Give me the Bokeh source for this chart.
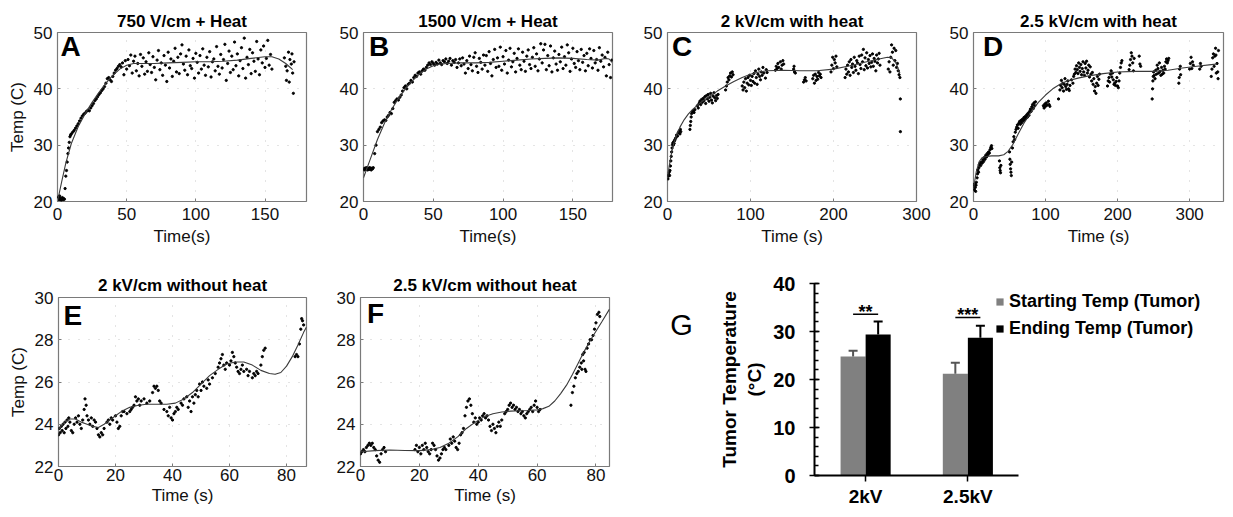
from bokeh.plotting import figure
from bokeh.models import (Range1d, FixedTicker, Label, ColumnDataSource,
                          Legend, LegendItem, SingleIntervalTicker)
from bokeh.layouts import row, column
from bokeh.transform import dodge
from bokeh.embed import file_html
from bokeh.resources import INLINE
from bokeh.core.properties import value

FONT = "Liberation Sans"

# ---------------- data ----------------
# Panel A: 750 V/cm + Heat
A_points = [
    (0, 20.5), (0.5, 20.8), (1, 20.3), (1.5, 21.0), (2, 20.6), (2.5, 20.2), (3, 20.4), (3.5, 20.7),
    (4, 20.3), (4.5, 20.5), (5, 20.4), (5.5, 22.3), (6, 24.5), (6.5, 25.5), (7, 27.0), (7.5, 28.5),
    (8, 29.5), (8.5, 30.5), (9, 31.5), (9.5, 31.8), (10, 32.0), (11, 32.3), (12, 32.6), (13, 33.0),
    (14, 33.4), (15, 33.8), (16, 34.3), (17, 34.8), (18, 35.2), (19, 35.5), (20, 35.7), (21, 36.0),
    (22, 36.2), (23, 36.1), (24, 36.6), (25, 37.0), (26, 37.4), (27, 37.9), (28, 38.2), (29, 38.6),
    (30, 39.0), (31, 39.3), (32, 39.7), (33, 40.0), (34, 40.4), (35, 41.0), (36, 41.8), (37, 42.0),
    (38, 41.6), (39, 41.3), (40, 42.2), (41, 42.8), (42, 43.3), (43, 43.6), (44, 44.0), (45, 44.3),
    (46, 43.9), (47, 44.6), (48, 42.5), (49, 45.0),
    (50, 43.5), (51, 45.2), (52, 44.1), (53, 46.0), (54, 42.8), (55, 44.9), (56, 45.8), (57, 43.2),
    (58, 44.5), (59, 42.3), (60, 46.1), (61, 44.0), (62, 45.5), (63, 42.6), (64, 44.8), (65, 43.1),
    (66, 46.4), (67, 44.3), (68, 42.9), (69, 45.7), (70, 43.8), (71, 41.6), (72, 45.1), (73, 46.8),
    (74, 43.4), (75, 44.6), (76, 42.4), (77, 45.9), (78, 44.2), (79, 41.3), (80, 46.5), (81, 43.7),
    (82, 45.3), (83, 42.2), (84, 44.9), (85, 47.2), (86, 43.0), (87, 45.6), (88, 42.7), (89, 46.2),
    (90, 47.8), (91, 44.4), (92, 43.3), (93, 45.8), (94, 42.5), (95, 46.9), (96, 44.1), (97, 43.6),
    (98, 45.4), (99, 41.9), (100, 46.3), (101, 44.7), (102, 42.8), (103, 45.9), (104, 43.5), (105, 47.1),
    (106, 44.2), (107, 42.4), (108, 45.6), (109, 43.9), (110, 46.6), (111, 42.1), (112, 44.8), (113, 45.3),
    (114, 43.2), (115, 47.5), (116, 44.0), (117, 42.6), (118, 46.1), (119, 43.7), (120, 45.2), (121, 47.9),
    (122, 41.5), (123, 44.5), (124, 46.7), (125, 42.9), (126, 45.8), (127, 43.4), (128, 48.3), (129, 44.1),
    (130, 46.2), (131, 42.3), (132, 45.0), (133, 47.3), (134, 43.6), (135, 49.0), (136, 41.9), (137, 45.6),
    (138, 44.3), (139, 47.0), (140, 42.7), (141, 46.4), (142, 44.9), (143, 43.1), (144, 48.4), (145, 45.3),
    (146, 42.5), (147, 46.9), (148, 44.6), (149, 47.6), (150, 43.8), (151, 45.4), (152, 48.6), (153, 44.2),
    (154, 46.1), (155, 43.5),
    (164, 45.5), (165, 44.0), (165.5, 41.5), (166, 43.2), (167, 46.5), (167.5, 41.2), (168, 45.2),
    (169, 44.4), (169.5, 46.2), (170, 42.8), (170.5, 39.2), (171, 44.8),
]
A_fit = [(0, 20.0), (3, 23.5), (6, 26.8), (10, 30.3), (15, 33.3), (20, 35.6), (25, 37.6), (30, 39.4),
         (35, 41.0), (40, 42.4), (45, 43.5), (50, 44.2), (55, 44.5), (60, 44.5), (70, 44.5), (80, 44.6),
         (90, 44.7), (100, 44.8), (110, 44.8), (120, 44.9), (130, 45.1), (140, 45.4), (150, 45.7),
         (155, 45.7), (160, 45.3), (165, 44.5), (170, 43.4)]

# Panel B: 1500 V/cm + Heat
B_points = [
    (0, 25.8), (0.5, 25.6), (1, 25.9), (1.5, 25.7), (2, 26.0), (2.5, 25.8), (3, 25.6), (3.5, 25.9),
    (4, 25.7), (4.5, 26.0), (5, 25.8), (5.5, 25.6), (6, 25.9), (6.5, 25.8), (7, 26.0), (8, 28.5),
    (9, 30.0), (10, 32.4), (11, 32.8), (12, 33.2), (13, 34.0), (14, 34.3), (15, 34.5), (16, 34.4),
    (17, 35.0), (18, 35.3), (19, 35.8), (20, 35.6), (21, 36.5), (22, 37.6), (23, 37.9), (24, 38.2),
    (25, 38.0), (26, 38.5), (27, 38.9), (28, 39.6), (29, 40.2), (30, 40.5), (31, 40.0), (32, 40.8),
    (33, 41.0), (34, 41.5), (35, 41.2), (36, 42.0), (37, 42.4), (38, 42.2), (39, 42.8), (40, 43.0),
    (41, 42.6), (42, 43.2), (43, 43.5), (44, 43.3), (45, 43.8), (46, 44.2), (47, 44.6), (48, 44.3),
    (49, 44.8), (50, 44.5), (51, 44.2), (52, 44.7), (53, 44.4), (54, 45.1), (55, 44.6), (56, 44.3),
    (57, 45.0), (58, 44.8), (59, 45.3), (60, 44.5), (61, 44.9), (62, 45.4), (63, 44.2), (64, 45.0),
    (65, 44.7), (66, 45.2), (67, 43.8), (68, 44.6), (69, 45.3), (70, 44.1), (71, 45.5), (72, 44.4),
    (73, 42.8), (74, 45.0), (75, 43.6), (76, 45.8), (77, 44.3), (78, 43.2), (79, 45.6), (80, 46.4),
    (81, 44.0), (82, 42.9), (83, 45.4), (84, 44.7), (85, 43.5), (86, 46.0), (87, 44.2), (88, 45.9),
    (89, 43.1), (90, 46.6), (91, 44.5), (92, 42.3), (93, 45.2), (94, 47.0), (95, 43.8), (96, 45.5),
    (97, 44.0), (98, 47.4), (99, 43.3), (100, 45.7), (101, 44.4), (102, 46.8), (103, 42.8), (104, 45.1),
    (105, 47.2), (106, 43.9), (107, 44.8), (108, 46.3), (109, 43.0), (110, 45.4), (111, 47.1), (112, 44.2),
    (113, 43.4), (114, 46.5), (115, 44.9), (116, 43.1), (117, 45.8), (118, 46.9), (119, 44.3), (120, 43.6),
    (121, 45.6), (122, 47.3), (123, 44.0), (124, 46.2), (125, 43.2), (126, 45.3), (127, 48.0), (128, 44.6),
    (129, 46.9), (130, 47.9), (131, 43.4), (132, 45.9), (133, 44.1), (134, 47.6), (135, 43.0), (136, 45.5),
    (137, 46.7), (138, 44.4), (139, 43.3), (140, 46.1), (141, 44.8), (142, 47.4), (143, 43.6), (144, 45.7),
    (145, 44.2), (146, 47.8), (147, 46.4), (148, 43.1), (149, 45.3), (150, 47.2), (151, 44.5), (152, 43.8),
    (153, 46.6), (154, 45.0), (155, 43.4), (156, 47.0), (157, 44.7), (158, 45.9), (159, 43.2), (160, 46.3),
    (161, 44.1), (162, 47.1), (163, 45.4), (164, 43.7), (165, 46.8), (166, 44.6), (167, 45.2), (168, 43.3),
    (169, 47.3), (170, 44.9), (171, 46.0), (172, 43.9), (173, 45.6), (174, 42.3), (175, 46.5), (176, 44.3),
    (177, 42.0), (178, 45.1),
]
B_fit = [(0, 24.2), (5, 27.6), (10, 31.0), (15, 33.9), (20, 36.3), (25, 38.3), (30, 40.0), (35, 41.4),
         (40, 42.6), (45, 43.5), (50, 44.1), (55, 44.4), (60, 44.5), (70, 44.6), (80, 44.6), (90, 44.7),
         (100, 44.9), (110, 45.1), (120, 45.3), (130, 45.4), (140, 45.5), (150, 45.4), (160, 45.2),
         (168, 45.1), (173, 45.4), (176, 45.3), (178, 44.7)]

# Panel C: 2 kV/cm with heat
C_points = [
    (0.5, 24.0), (1, 24.5), (1.5, 24.8), (2, 25.2), (2.5, 24.6), (3, 25.5), (3.5, 26.3), (4, 27.2),
    (4.5, 28.0), (5, 28.8), (5.5, 29.5), (6, 30.1), (6.5, 30.4), (7, 30.0), (7.5, 30.6), (8, 30.3),
    (8.5, 30.8), (9, 31.0), (10, 31.3), (11, 31.8), (12, 31.6), (13, 32.2), (14, 32.5), (15, 32.0),
    (15.5, 32.8), (16, 32.4),
    (27, 32.8), (27.5, 33.5), (28, 34.2), (28.5, 35.0), (29, 35.6), (30, 35.9), (31, 36.1), (32, 35.8),
    (33, 36.3), (36, 37.0), (37, 36.6), (38, 37.4), (39, 37.8), (40, 37.2), (41, 38.1), (42, 37.6),
    (43, 38.3), (44, 37.9), (45, 38.6), (46, 37.4), (47, 38.8), (48, 38.2), (49, 39.0), (50, 37.8),
    (51, 38.5), (52, 39.2), (53, 38.0), (54, 37.5), (55, 38.7), (56, 39.3), (57, 38.4), (58, 37.9),
    (59, 38.8), (60, 38.3), (61, 39.0),
    (70, 39.8), (71, 40.5), (72, 41.2), (73, 42.0), (74, 41.6), (75, 42.3), (76, 42.8), (77, 42.1),
    (78, 43.0), (79, 42.5),
    (90, 40.5), (91, 39.8), (92, 41.2), (93, 40.2), (94, 41.8), (95, 39.6), (96, 41.0), (97, 42.0),
    (98, 40.7), (99, 42.4), (100, 41.5), (101, 40.6), (102, 42.2), (103, 41.3), (104, 42.7), (105, 41.0),
    (106, 43.2), (107, 42.0), (108, 40.8), (109, 42.6), (110, 43.5), (111, 42.2), (112, 41.6), (113, 43.0),
    (114, 42.4), (115, 43.8), (116, 42.8), (118, 41.9), (119, 43.4), (120, 42.9),
    (130, 43.3), (131, 44.0), (132, 43.6), (133, 44.5), (134, 43.8), (136, 44.8), (137, 43.5), (138, 44.2),
    (139, 45.0), (140, 44.4),
    (152, 43.5), (152.5, 44.0), (153, 43.0), (154, 42.8),
    (164, 41.2), (165, 41.6), (166, 42.0), (167, 41.4), (175, 41.8), (176, 42.4), (177, 41.0), (178, 42.6),
    (179, 41.5), (180, 42.2), (181, 41.7), (182, 42.9), (183, 42.3), (184, 42.6), (185, 42.0),
    (197, 43.0), (198, 44.2), (199, 45.6), (200, 43.6), (201, 45.2), (202, 44.6), (203, 45.8), (204, 43.9),
    (214, 42.0), (215, 43.5), (216, 42.6), (217, 44.2), (218, 43.0), (219, 44.8), (220, 42.4), (221, 45.2),
    (222, 43.8), (223, 44.4), (224, 42.9), (225, 45.6), (226, 44.0), (227, 43.3), (228, 45.0), (229, 44.6),
    (230, 42.7), (231, 45.8), (232, 44.3), (233, 43.6), (234, 46.0), (235, 44.8), (236, 47.0), (237, 43.4),
    (238, 45.5), (239, 44.1), (240, 46.4), (241, 43.7), (242, 45.2), (243, 44.5), (244, 45.9), (245, 43.9),
    (246, 44.7), (247, 46.2), (248, 44.0), (249, 45.4), (250, 44.9), (251, 43.2), (252, 46.0), (253, 44.6),
    (254, 45.3), (255, 46.3), (256, 44.2),
    (266, 43.5), (267, 44.8), (268, 43.0), (269, 45.6), (270, 47.8), (271, 46.5), (272, 44.2), (273, 47.2),
    (274, 45.0), (275, 46.8), (276, 43.8), (277, 44.5), (278, 43.2), (279, 42.5), (280, 42.0),
    (280.5, 38.2), (280.6, 32.4),
]
C_fit = [(0, 24.2), (2, 26.2), (4, 28.0), (6, 29.4), (8, 30.5), (10, 31.4), (15, 33.2), (20, 34.5),
         (25, 35.5), (30, 36.3), (40, 37.6), (50, 38.6), (60, 39.6), (70, 40.5), (80, 41.3), (90, 42.0),
         (100, 42.6), (110, 43.0), (120, 43.2), (140, 43.3), (160, 43.2), (180, 43.2), (200, 43.5),
         (220, 44.1), (240, 44.8), (255, 45.3), (265, 45.6), (270, 45.5), (275, 44.7), (280, 42.8)]

# Panel D: 2.5 kV/cm with heat
D_points = [
    (0, 23.0), (0.5, 22.3), (1, 22.8), (1.5, 22.0), (2, 23.2), (2.5, 22.5), (3, 21.8), (3.5, 22.9),
    (4, 23.4), (5, 24.2), (5.5, 24.9), (6, 25.6), (7, 25.2), (7.5, 26.0), (8, 26.5), (9, 26.8),
    (10, 26.4), (11, 27.0), (12, 26.8), (13, 27.4), (14, 27.1), (15, 27.8), (16, 27.5), (17, 28.2),
    (18, 27.9), (19, 28.5), (20, 28.3), (21, 28.8), (22, 28.6), (23, 29.2), (24, 29.6), (25, 29.9),
    (25.5, 29.4),
    (36, 27.2), (36.5, 26.0), (37, 25.5), (37.5, 25.1), (38, 26.4),
    (50, 28.8), (50.5, 27.5), (51, 26.6), (51.5, 25.8), (52, 25.2), (52.5, 24.6), (53, 27.0), (54, 29.5),
    (55, 30.6), (56, 31.5), (57, 31.0), (58, 32.3), (59, 32.8), (60, 33.2), (61, 33.6), (62, 33.0),
    (63, 33.9), (64, 34.2), (65, 33.7), (66, 34.4), (67, 34.0), (68, 34.6), (69, 34.3), (70, 34.9),
    (71, 34.5), (72, 35.1), (73, 34.8), (74, 35.4), (75, 35.0), (76, 35.7), (77, 35.3), (78, 36.0),
    (79, 36.4), (80, 36.0), (81, 36.8), (82, 37.2), (83, 36.5), (84, 37.5), (85, 37.0), (86, 37.7),
    (97, 37.0), (98, 36.6), (99, 37.3), (100, 36.9), (101, 37.5), (102, 37.1), (104, 37.8), (105, 37.2),
    (106, 36.9),
    (118, 38.2), (120, 39.8), (121, 40.6), (122, 41.5), (123, 40.2), (124, 41.0), (125, 39.6), (126, 40.8),
    (127, 41.8), (128, 40.4), (129, 39.9), (130, 40.8), (131, 41.4), (132, 40.0), (133, 39.7), (134, 40.6),
    (136, 41.6), (138, 41.0), (139, 42.2), (140, 42.6), (141, 43.5), (142, 42.9), (143, 44.1), (144, 43.4),
    (145, 42.7), (146, 44.6), (147, 43.8), (148, 43.1), (149, 44.3), (150, 42.5), (151, 43.6), (152, 44.8),
    (153, 43.0), (154, 42.4), (155, 44.5), (156, 43.7), (157, 44.9), (158, 42.8), (159, 43.3), (160, 44.2),
    (161, 42.1), (162, 43.9), (163, 42.6), (164, 41.4), (165, 42.9), (166, 40.8), (167, 41.8), (168, 39.6),
    (169, 40.4), (170, 39.2), (171, 41.0), (172, 42.2), (173, 40.6), (174, 41.7), (175, 42.6),
    (186, 40.5), (187, 41.4), (188, 42.0), (189, 41.2), (190, 42.6), (191, 43.2), (192, 42.1), (193, 42.8),
    (194, 41.6), (195, 40.8), (196, 41.0), (197, 40.6), (198, 41.3), (199, 42.0), (200, 40.5), (201, 40.2),
    (202, 41.4), (203, 42.8), (204, 43.8), (205, 44.6), (206, 45.0),
    (216, 43.4), (217, 44.2), (218, 45.2), (219, 46.4), (220, 45.8), (221, 44.6), (222, 43.2), (223, 45.4),
    (230, 45.8), (231, 44.4), (232, 44.0),
    (248, 38.2), (248.5, 40.0), (249, 41.4), (249.5, 42.2), (250, 43.0), (251, 42.4), (252, 41.8), (253, 43.3),
    (254, 42.6), (255, 44.2), (256, 43.6), (257, 42.8), (258, 44.6), (259, 43.1), (260, 42.4), (261, 43.8),
    (262, 42.6), (263, 43.3), (264, 42.8), (265, 44.0), (266, 43.5), (267, 44.8), (268, 45.3), (269, 44.6),
    (270, 45.0), (271, 45.4),
    (285, 41.0), (285.5, 42.0), (286, 43.5), (287, 44.0), (287.5, 42.5),
    (300, 43.5), (301, 44.5), (302, 45.6), (303, 43.6), (304, 44.8), (305, 44.2),
    (314, 43.5), (315, 44.5), (316, 44.0),
    (330, 42.2), (331, 43.5), (332, 45.5), (333, 46.2), (334, 44.0), (335, 45.8), (336, 47.2), (336.5, 46.0),
    (337, 42.8), (338, 44.5), (339, 43.0), (339.5, 41.8), (340, 46.8),
]
D_fit = [(0, 22.3), (4, 25.4), (8, 27.1), (12, 27.8), (18, 28.0), (25, 28.1), (35, 28.1), (42, 28.3),
         (48, 28.9), (55, 30.2), (62, 32.0), (70, 33.9), (80, 35.9), (90, 37.6), (100, 38.9), (110, 40.0),
         (120, 40.8), (130, 41.4), (145, 41.9), (160, 42.3), (180, 42.7), (200, 43.0), (225, 43.1),
         (250, 43.1), (270, 43.3), (290, 43.7), (310, 44.0), (330, 44.3), (338, 44.4)]

# Panel E: 2 kV/cm without heat
E_points = [
    (0, 23.5), (0.3, 23.8), (0.6, 23.6), (1, 23.9), (1.3, 23.7), (1.6, 24.0), (2, 23.6), (2.3, 24.1),
    (2.6, 23.8), (3, 24.2), (3.3, 23.9), (3.6, 24.3), (4, 24.1), (4.5, 23.7), (5, 23.6), (5.5, 24.0),
    (6, 24.3), (6.5, 24.1), (7, 24.4), (7.5, 24.0), (8, 23.8), (8.5, 24.2), (9, 24.7), (9.3, 25.2),
    (9.7, 24.9), (10, 24.4), (10.5, 24.2), (11, 24.0), (11.5, 24.3), (12, 23.9), (12.5, 24.2), (13, 24.1),
    (13.5, 23.8), (14, 23.5), (14.5, 23.4), (15, 23.6), (15.5, 23.5), (16, 23.8), (17, 24.1), (17.5, 24.2),
    (18, 24.0), (18.5, 24.3), (19, 24.2), (20, 24.4), (20.5, 24.1), (21, 23.8), (21.5, 23.9), (22, 24.4),
    (22.5, 24.6), (23, 24.6), (24, 24.5), (25, 24.6), (25.5, 24.7), (26, 24.8), (26.5, 24.9), (27, 25.3),
    (27.5, 25.1), (28, 25.2), (28.5, 24.9), (29, 25.1), (30, 25.2), (31, 25.0), (32, 25.1), (33, 25.5),
    (33.5, 25.8), (34, 25.7), (34.5, 25.8), (35, 25.6), (35.5, 25.1), (36, 25.0), (37, 24.7), (38, 24.6),
    (38.5, 24.4), (39, 24.8), (39.5, 24.3), (40, 24.2), (40.5, 24.5), (41, 24.6), (41.5, 24.8), (42, 24.7),
    (43, 25.0), (43.5, 24.9), (44, 25.2), (45, 25.3), (45.5, 24.8), (46, 25.1), (46.5, 24.6), (47, 25.3),
    (47.5, 25.0), (48, 25.4), (48.5, 25.6), (49, 25.3), (49.5, 25.9), (50, 25.6), (50.5, 26.0), (51, 25.8),
    (52, 25.7), (52.5, 26.1), (53, 25.9), (54, 26.2), (55, 26.4), (56, 26.7), (56.5, 26.9), (57, 27.1),
    (57.5, 27.3), (58, 26.8), (58.5, 26.6), (59, 26.9), (60, 26.8), (60.5, 27.0), (61, 27.4), (61.5, 27.2),
    (62, 26.9), (62.5, 26.7), (63, 26.5), (63.5, 26.4), (64, 26.6), (64.5, 26.8), (65, 26.5), (66, 26.6),
    (66.5, 26.3), (67, 26.5), (68, 26.2), (68.5, 26.4), (69, 26.3), (69.5, 26.5), (70, 26.4), (71, 26.8),
    (71.5, 27.2), (72, 27.5), (72.5, 27.6), (83, 27.2), (83.5, 27.3), (84, 27.2), (84.5, 27.8), (85, 28.5),
    (85.3, 29.0), (85.6, 28.9), (86, 28.7),
]
E_fit = [(0, 23.75), (2, 24.1), (4, 24.25), (6, 24.25), (8, 24.1), (10, 24.0), (12, 23.9), (14, 23.85),
         (16, 24.0), (18, 24.2), (20, 24.4), (22, 24.6), (25, 24.8), (28, 24.9), (31, 24.95), (35, 24.95),
         (38, 24.95), (41, 25.0), (44, 25.2), (47, 25.5), (50, 25.9), (53, 26.3), (56, 26.6), (59, 26.85),
         (62, 26.95), (65, 26.95), (68, 26.8), (71, 26.55), (74, 26.4), (76, 26.37), (78, 26.45),
         (80, 26.75), (82, 27.2), (84, 27.75), (86, 28.35), (87, 28.6)]

# Panel F: 2.5 kV/cm without heat
F_points = [
    (0, 22.6), (0.5, 22.7), (1, 22.8), (1.5, 22.7), (2, 22.9), (2.5, 23.0), (3, 23.1), (3.5, 23.0),
    (4, 23.1), (4.5, 22.9), (5, 22.8), (5.5, 22.5), (6, 22.3), (6.5, 22.2), (7, 22.6), (7.5, 22.8),
    (8, 22.9), (8.5, 22.7),
    (18.5, 22.8), (19, 23.0), (19.5, 22.7), (20, 22.9), (20.5, 22.6), (21, 23.0), (21.5, 22.8), (22, 23.1),
    (22.5, 22.9), (23, 22.7), (23.5, 22.6), (24, 22.8), (24.5, 23.1), (25, 23.0), (25.5, 22.8), (26, 22.5),
    (26.5, 22.3), (27, 22.4), (27.5, 22.6), (28, 22.8), (28.5, 22.9), (29, 22.8), (30, 23.0), (30.5, 23.3),
    (31, 23.1), (31.5, 23.4), (32, 23.2), (32.5, 22.9), (33, 22.8), (33.5, 23.1), (34, 23.5), (34.5, 23.6),
    (35, 23.8), (35.5, 24.4), (36, 24.8), (36.5, 25.1), (37, 25.2), (37.5, 24.9), (38, 24.5), (38.5, 24.1),
    (39, 24.3), (39.5, 24.0), (40, 24.1), (40.5, 24.3), (41, 24.2), (41.5, 24.4), (42, 24.5), (42.5, 24.3),
    (43, 24.4), (43.5, 24.2), (44, 23.9), (44.5, 23.7), (45, 24.0), (45.5, 23.8), (46, 23.6), (46.5, 23.9),
    (47, 24.1), (47.5, 23.9), (48, 24.2), (49, 24.5), (49.5, 24.6), (50, 24.7), (50.5, 24.9), (51, 25.0),
    (51.5, 24.8), (52, 24.9), (52.5, 24.7), (53, 24.8), (53.5, 24.6), (54, 24.7), (54.5, 24.5), (55, 24.6),
    (55.5, 24.4), (56, 24.3), (56.5, 24.5), (57, 24.6), (57.5, 24.7), (58, 24.8), (58.5, 24.6), (59, 24.9),
    (59.5, 25.1), (60, 24.8), (60.5, 24.6), (61, 24.7),
    (71.5, 24.9), (72, 25.5), (72.5, 25.8), (73, 26.2), (73.5, 26.4), (74, 26.5), (74.5, 26.7), (75, 26.9),
    (75.2, 26.6), (75.5, 27.3), (75.8, 27.0), (76, 27.4), (76.3, 26.6), (76.6, 26.5), (77, 27.6), (77.5, 27.8),
    (78, 28.0), (78.5, 28.0), (79, 28.2), (79.5, 28.5), (80, 28.8), (80.5, 29.2), (81, 29.3), (81.3, 29.1),
]
F_fit = [(0, 22.7), (5, 22.75), (10, 22.78), (15, 22.76), (20, 22.75), (24, 22.8), (27, 22.9), (30, 23.1),
         (33, 23.4), (36, 23.8), (39, 24.1), (42, 24.35), (45, 24.5), (48, 24.58), (51, 24.62), (54, 24.64),
         (57, 24.65), (60, 24.68), (62, 24.74), (64, 24.85), (66, 25.1), (68, 25.45), (70, 25.85),
         (72, 26.35), (74, 26.9), (76, 27.45), (78, 27.95), (80, 28.4), (82, 28.85), (84.6, 29.45)]

# Panel G: bar chart
G_cats = ["2kV", "2.5kV"]
G_start = [24.8, 21.2]
G_end = [29.4, 28.7]
G_start_err = [1.2, 2.3]
G_end_err = [2.7, 2.5]
G_sig_y = [33.6, 32.9]
G_sig_text = ["**", "***"]

X_TICKS_AB = [0, 50, 100, 150]
X_TICKS_CD = [0, 100, 200, 300]
X_TICKS_EF = [0, 20, 40, 60, 80]
Y_TICKS_TOP = [20, 30, 40, 50]
Y_TICKS_BOT = [22, 24, 26, 28, 30]


def line_panel(title, letter, pts, fit, xmax, ymin, ymax, xticks, yticks, xlabel, ylabel,
               w, h, mbl, mbr, mbt, mbb, x_std, xl_std, t_std, letter_off):
    t, temp = zip(*pts)
    ft, fy = zip(*fit)
    p = figure(width=w, height=h, output_backend="svg", toolbar_location=None,
               x_range=Range1d(0, xmax), y_range=Range1d(ymin, ymax),
               min_border_left=mbl, min_border_right=mbr, min_border_top=mbt, min_border_bottom=mbb)
    p.title.text = title
    p.title.align = "center"
    p.title.text_font = FONT
    p.title.text_font_size = "17px"
    p.title.text_font_style = "bold"
    p.title.text_color = "black"
    p.title.standoff = t_std
    p.title.offset = 0
    p.outline_line_color = "#7a7a7a"
    p.outline_line_width = 1.2
    p.background_fill_color = "white"
    p.border_fill_color = "white"
    p.grid.grid_line_color = "#c8c8c8"
    p.grid.grid_line_dash = "1 9"
    for ax in (p.xaxis[0], p.yaxis[0]):
        ax.axis_line_color = None
        ax.major_tick_in = 3
        ax.major_tick_out = 0
        ax.major_tick_line_color = "#7a7a7a"
        ax.minor_tick_line_color = None
        ax.major_label_text_font = FONT
        ax.major_label_text_font_size = "17px"
        ax.major_label_text_color = "#111111"
        ax.axis_label_text_font = FONT
        ax.axis_label_text_font_size = "17px"
        ax.axis_label_text_font_style = "normal"
        ax.axis_label_text_color = "#111111"
    p.xaxis.ticker = FixedTicker(ticks=xticks)
    p.yaxis.ticker = FixedTicker(ticks=yticks)
    p.xaxis.major_label_standoff = x_std
    p.xaxis.axis_label = xlabel
    p.xaxis.axis_label_standoff = xl_std
    p.yaxis.major_label_standoff = 5
    if ylabel:
        p.yaxis.axis_label = ylabel
        p.yaxis.axis_label_standoff = 4
    p.scatter(x=list(t), y=list(temp), size=2.3, color="black", marker="circle")
    p.line(x=list(ft), y=list(fy), line_color="#3a3a3a", line_width=1.1)
    p.add_layout(Label(x=0, y=ymax, x_offset=letter_off[0], y_offset=letter_off[1], text=letter,
                       text_font=FONT, text_font_size="28px", text_font_style="bold",
                       text_align="left", text_baseline="top", text_color="black"))
    return p


pA = line_panel("750 V/cm + Heat", "A", A_points, A_fit, 180, 20, 50, X_TICKS_AB, Y_TICKS_TOP,
                "Time(s)", "Temp (C)", 318, 258, 57, 12, 32, 57, 6, 4, 4, (3, 2))
pB = line_panel("1500 V/cm + Heat", "B", B_points, B_fit, 178.4, 20, 50, X_TICKS_AB, Y_TICKS_TOP,
                "Time(s)", None, 310, 258, 45, 16, 32, 57, 6, 4, 4, (5.5, 2))
pC = line_panel("2 kV/cm with heat", "C", C_points, C_fit, 300, 20, 50, X_TICKS_CD, Y_TICKS_TOP,
                "Time (s)", None, 305, 258, 39, 17, 32, 57, 6, 4, 4, (4.5, 2))
pD = line_panel("2.5 kV/cm with heat", "D", D_points, D_fit, 347, 20, 50, X_TICKS_CD, Y_TICKS_TOP,
                "Time (s)", None, 300, 258, 40, 10, 32, 57, 6, 4, 4, (9.5, 2))
pE = line_panel("2 kV/cm without heat", "E", E_points, E_fit, 87, 22, 30, X_TICKS_EF, Y_TICKS_BOT,
                "Time (s)", "Temp (C)", 320, 259, 58, 14, 39, 51, 2, 2, 6, (5, -2.5))
pF = line_panel("2.5 kV/cm without heat", "F", F_points, F_fit, 84.6, 22, 30, X_TICKS_EF, Y_TICKS_BOT,
                "Time (s)", None, 303, 259, 40, 14, 39, 51, 2, 2, 6, (6.5, -0.5))

# ---------------- panel G letter (its own small canvas, same borders as panel G) -------------
gl = figure(width=80, height=259, output_backend="svg", toolbar_location=None,
            x_range=Range1d(0, 1), y_range=Range1d(0, 1), x_axis_type=None, y_axis_type=None,
            min_border_left=0, min_border_right=0, min_border_top=25, min_border_bottom=42)
gl.outline_line_color = None
gl.grid.grid_line_color = None
gl.add_layout(Label(x=0.725, y=0.786, text="G", text_font=FONT, text_font_size="29px",
                    text_align="center", text_baseline="middle", text_color="black"))

# ---------------- panel G ----------------
# categories sit one unit apart on the x scale (centres at 0.5, 1.5); the frame is wide
# enough to hold the legend to the right of the bars.
G_pos = [i + 0.5 for i in range(len(G_cats))]
g = figure(width=530, height=259, output_backend="svg", toolbar_location=None,
           x_range=Range1d(0, 4.02), y_range=Range1d(0, 40),
           min_border_left=111, min_border_right=8, min_border_top=25, min_border_bottom=42)
g.outline_line_color = None
g.grid.grid_line_color = None
g.background_fill_color = "white"

src = ColumnDataSource(dict(
    pos=G_pos, start=G_start, end=G_end,
    start_hi=[v + e for v, e in zip(G_start, G_start_err)],
    end_hi=[v + e for v, e in zip(G_end, G_end_err)],
    sig=G_sig_y, sig_txt=[s + 0.45 for s in G_sig_y], txt=G_sig_text,
))
OFF = 0.1225
BW = 0.245
gray = g.vbar(x=dodge("pos", -OFF), top="start", width=BW, source=src,
              fill_color="#808080", line_color=None)
blk = g.vbar(x=dodge("pos", OFF), top="end", width=BW, source=src,
             fill_color="#000000", line_color=None)
g.segment(x0=dodge("pos", -OFF), y0="start", x1=dodge("pos", -OFF), y1="start_hi", source=src,
          line_color="#555555", line_width=2)
g.scatter(x=dodge("pos", -OFF), y="start_hi", source=src, marker="dash", size=9,
          line_color="#555555", line_width=2)
g.segment(x0=dodge("pos", OFF), y0="end", x1=dodge("pos", OFF), y1="end_hi", source=src,
          line_color="black", line_width=2)
g.scatter(x=dodge("pos", OFF), y="end_hi", source=src, marker="dash", size=9,
          line_color="black", line_width=2)
g.segment(x0=dodge("pos", -OFF), y0="sig", x1=dodge("pos", OFF), y1="sig", source=src,
          line_color="black", line_width=1.5)
g.text(x="pos", y="sig_txt", text="txt", source=src, text_align="center", text_baseline="alphabetic",
       text_font=value(FONT), text_font_size="18px", text_font_style="bold", text_color="black")

yax = g.yaxis[0]
yax.ticker = SingleIntervalTicker(interval=10, num_minor_ticks=5)
yax.axis_line_width = 2
yax.axis_line_color = "black"
yax.major_tick_in = 5
yax.major_tick_out = 5
yax.major_tick_line_width = 1.5
yax.minor_tick_in = 4
yax.minor_tick_out = 0
yax.minor_tick_line_width = 1.5
yax.major_label_text_font = FONT
yax.major_label_text_font_size = "20px"
yax.major_label_text_font_style = "bold"
yax.major_label_text_color = "black"
yax.major_label_standoff = 14
yax.axis_label = "Tumor Temperature\n(°C)"
yax.axis_label_text_font = FONT
yax.axis_label_text_font_size = "19px"
yax.axis_label_text_font_style = "bold"
yax.axis_label_text_color = "black"
yax.axis_label_standoff = 5

xax = g.xaxis[0]
xax.bounds = (0, len(G_cats))
xax.ticker = FixedTicker(ticks=G_pos)
xax.major_label_overrides = {p: c for p, c in zip(G_pos, G_cats)}
xax.minor_tick_line_color = None
xax.axis_line_width = 2
xax.axis_line_color = "black"
xax.major_tick_in = 0
xax.major_tick_out = 6
xax.major_tick_line_width = 1.5
xax.major_label_text_font = FONT
xax.major_label_text_font_size = "19px"
xax.major_label_text_font_style = "bold"
xax.major_label_text_color = "black"
xax.major_label_standoff = 4

legend = Legend(items=[LegendItem(label="Starting Temp (Tumor)", renderers=[gray]),
                       LegendItem(label="Ending Temp (Tumor)", renderers=[blk])],
                location=(181, 136), padding=0, margin=0, spacing=6,
                glyph_width=9, glyph_height=9, label_standoff=5, label_height=20,
                border_line_color=None, background_fill_alpha=0,
                label_text_font=FONT, label_text_font_size="18px", label_text_font_style="bold",
                label_text_color="black")
g.add_layout(legend)

layout = column(row(pA, pB, pC, pD), row(row(pE, pF), row(gl, g)))

with open("out.html", "w") as f:
    f.write(file_html(layout, INLINE))
